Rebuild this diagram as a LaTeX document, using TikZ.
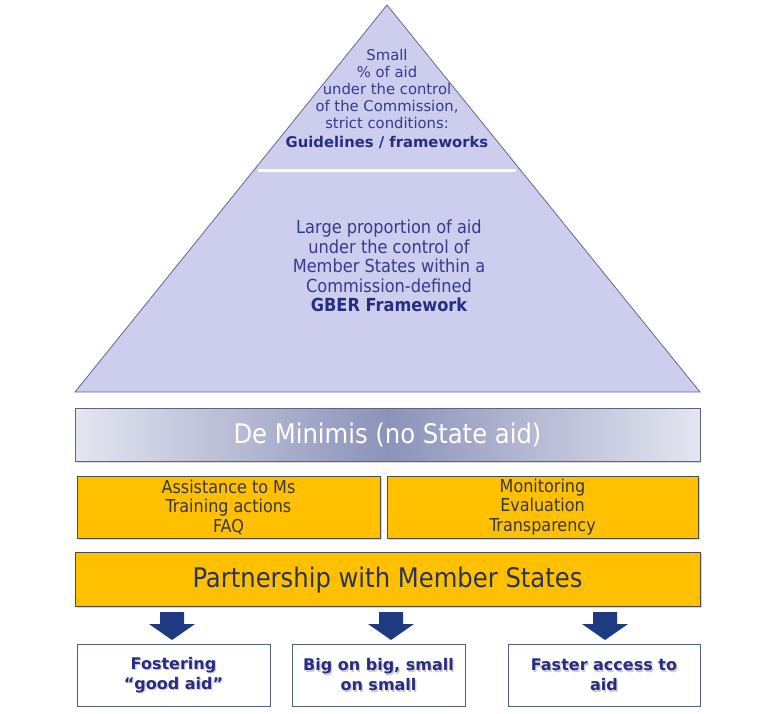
\documentclass[tikz,border=0pt]{standalone}
\usepackage{fontspec}
\setmainfont{DejaVu Sans}
\newfontfamily\tah{DejaVu Sans Condensed}
\usetikzlibrary{shadows}
\definecolor{pyrfill}{RGB}{205,206,238}
\definecolor{pyredge}{RGB}{95,105,145}
\definecolor{pyrtext}{RGB}{55,58,140}
\definecolor{boldtext}{RGB}{40,45,130}
\definecolor{gold}{RGB}{255,192,0}
\definecolor{goldtext}{RGB}{55,55,75}
\definecolor{pmtext}{RGB}{45,50,90}
\definecolor{dmedge}{RGB}{95,100,130}
\definecolor{dmlight}{RGB}{228,230,240}
\definecolor{dmdark}{RGB}{140,146,186}
\definecolor{arrowblue}{RGB}{30,58,128}
\definecolor{botedge}{RGB}{80,95,130}
\tikzset{
  goldbox/.style={draw=black!70, fill=gold, line width=0.6pt, drop shadow={shadow xshift=1.5pt, shadow yshift=-1.5pt, opacity=0.35}},
  outbox/.style={draw=botedge, fill=white, line width=0.8pt},
  blockarrow/.style={fill=arrowblue, draw=none},
  txt/.style={align=center, inner sep=0pt}
}
\begin{document}
\begin{tikzpicture}[x=1pt,y=-1pt]
\useasboundingbox (0,0) rectangle (770,713);
% pyramid
\coordinate (apex) at (387,5);
\coordinate (bl) at (75,392);
\coordinate (br) at (700,392);
\draw[fill=pyrfill, draw=pyredge, line width=0.8pt] (apex) -- (br) -- (bl) -- cycle;
\coordinate (wl) at (258,170);
\coordinate (wr) at (516,170);
\draw[white, line width=3pt] (wl) -- (wr);
\node[txt, text=pyrtext, font=\fontsize{14.8}{17}\selectfont] (toptext) at (387,99)
 {Small\\\% of aid\\under the control\\of the Commission,\\strict conditions:\\[2pt]\textcolor{boldtext}{\bfseries Guidelines / frameworks}};
\node[txt, text=pyrtext, font=\tah\fontsize{18}{19.5}\selectfont] (midtext) at (389,266)
 {Large proportion of aid\\under the control of\\Member States within a\\Commission-defined\\\textcolor{boldtext}{\bfseries GBER Framework}};
% de minimis
\shade[left color=dmlight, right color=dmdark] (75,408) rectangle (388,461);
\shade[left color=dmdark, right color=dmlight] (387.5,408) rectangle (700,461);
\fill[black, opacity=0.15] (77,461.5) rectangle (701,463);
\node[draw=dmedge, line width=0.7pt, minimum width=625pt, minimum height=53pt, inner sep=0pt] (dm) at (387.5,434.5) {};
\node[text=white, font=\tah\fontsize{27}{30}\selectfont] (dmtext) at (387.5,435) {De Minimis (no State aid)};
% gold boxes
\node[goldbox, minimum width=303pt, minimum height=62pt, inner sep=0pt] (g1) at (228.5,507) {};
\node[txt, text=goldtext, font=\tah\fontsize{17.8}{19.5}\selectfont] (g1t) at (228.5,507) {Assistance to Ms\\Training actions\\FAQ};
\node[goldbox, minimum width=311pt, minimum height=62pt, inner sep=0pt] (g2) at (542.5,507) {};
\node[txt, text=goldtext, font=\tah\fontsize{17.8}{19.5}\selectfont] (g2t) at (542.5,507) {Monitoring\\Evaluation\\Transparency};
\node[goldbox, minimum width=625pt, minimum height=54pt, inner sep=0pt] (pm) at (387.5,579) {};
\node[text=pmtext, font=\tah\fontsize{27}{30}\selectfont] (pmt) at (387.5,580) {Partnership with Member States};
% arrows
\foreach \n/\x in {a1/172, a2/391, a3/605}{
  \coordinate (\n) at (\x,612);
  \fill[blockarrow] (\n) ++(-12,0) -- ++(24,0) -- ++(0,12) -- ++(11,0) -- ++(-23,16) -- ++(-23,-16) -- ++(11,0) -- cycle;
}
% bottom boxes
\node[outbox, minimum width=193pt, minimum height=62pt, inner sep=0pt] (b1) at (173.5,675) {};
\node[outbox, minimum width=173pt, minimum height=62pt, inner sep=0pt] (b2) at (378.5,675) {};
\node[outbox, minimum width=192pt, minimum height=62pt, inner sep=0pt] (b3) at (604,675) {};
\foreach \n/\x/\t in {b1t/173.5/{Fostering\\``good aid''}, b2t/378.5/{Big on big, small\\on small}, b3t/604/{Faster access to\\aid}}{
  \node[txt, text=black!20, font=\bfseries\fontsize{16}{20}\selectfont] at (\x+1.3,676.3) {\t};
  \node[txt, text=boldtext, font=\bfseries\fontsize{16}{20}\selectfont] (\n) at (\x,675) {\t};
}
\end{tikzpicture}
\end{document}
